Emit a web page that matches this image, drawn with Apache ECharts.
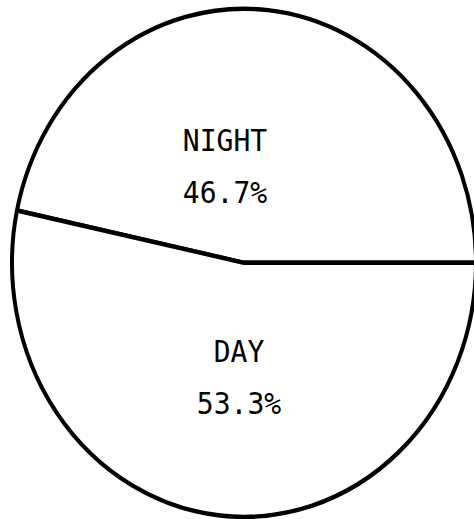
<!DOCTYPE html>
<html>
<head>
<meta charset="utf-8">
<script src="https://cdn.jsdelivr.net/npm/echarts@6/dist/echarts.min.js"></script>
<style>
  html, body { margin: 0; padding: 0; background: #fff; width: 474px; height: 519px; overflow: hidden; }
  /* the scanned pie is a slightly tall ellipse, so stretch the chart box vertically */
  #main { width: 474px; height: 474px; transform: scaleY(1.095); transform-origin: 0 0; }
</style>
</head>
<body>
<div id="main"></div>
<script>
  var categories = ['NIGHT', 'DAY'];
  var shares = [46.7, 53.3];

  // label centres, in unscaled chart pixels
  var labelPos = [[225, 152], [239, 345]];

  var chart = echarts.init(document.getElementById('main'), null, { renderer: 'svg' });

  var option = {
    animation: false,
    tooltip: { show: false },
    series: [
      {
        type: 'pie',
        center: [244, 240],
        radius: 232,
        startAngle: 0,
        clockwise: false,
        silent: true,
        emphasis: { disabled: true },
        itemStyle: {
          color: '#fff',
          borderColor: '#000',
          borderWidth: 4,
          borderJoin: 'round'
        },
        label: {
          show: true,
          position: 'inside',
          color: '#000',
          fontFamily: 'DejaVu Sans Mono',
          fontSize: 28,
          lineHeight: 47,
          formatter: function (p) {
            return p.name + '\n' + p.value.toFixed(1) + '%';
          }
        },
        labelLine: { show: false },
        labelLayout: function (p) {
          var pos = labelPos[p.dataIndex];
          return { x: pos[0], y: pos[1], align: 'center', verticalAlign: 'middle' };
        },
        data: categories.map(function (c, i) {
          return { name: c, value: shares[i] };
        })
      }
    ]
  };

  chart.setOption(option);
</script>
</body>
</html>
